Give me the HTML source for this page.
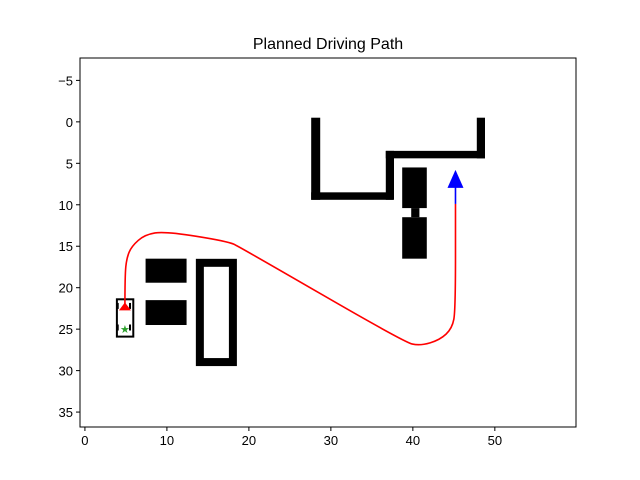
<!DOCTYPE html>
<html><head><meta charset="utf-8"><style>
body{margin:0;background:#fff}
svg{display:block;font-family:"Liberation Sans","DejaVu Sans",sans-serif}
</style></head><body>
<svg id="chart" width="640" height="480">
<rect width="640" height="480" fill="#fff"/>
<text x="328" y="49" text-anchor="middle" font-size="16">Planned Driving Path</text>
<g id="obs"></g>
<g id="pathg"></g>
<g id="axes"></g>
</svg>
<script>
const xTicks=[0,10,20,30,40,50];
const yTicks=[-5,0,5,10,15,20,25,30,35];
// obstacles [x0,y0,x1,y1] in data units
const obstacles=[
[27.6,-0.5,28.7,9.4],[27.6,8.5,37.6,9.4],[36.7,3.5,37.7,9.4],[36.7,3.5,48.8,4.4],[47.8,-0.5,48.8,4.4],
[38.7,5.5,41.7,10.4],[39.8,10.4,40.8,11.5],[38.7,11.5,41.7,16.5],
[7.4,16.5,12.4,19.4],[7.4,21.5,12.4,24.5]];
const pathX=[4.88,4.88,5.1,5.7,7.3,9.8,17.4,18.9,39.0,40.9,43.3,44.8,45.2,45.2];
const pathY=[22.3,18.5,16.4,15.0,13.6,13.2,14.4,15.1,26.6,27.0,26.3,24.9,22.7,9.9];
const goal=[45.2,7.0];
const start=[4.88,22.5];
const NS='http://www.w3.org/2000/svg';
const L=80,R=576,T=58,B=427,xmin=-0.6,xmax=59.9,ymin=-7.7,ymax=36.8;
const sx=v=>L+(v-xmin)/(xmax-xmin)*(R-L);
const sy=v=>T+(v-ymin)/(ymax-ymin)*(B-T);
function mk(tag,attrs,parent){const e=document.createElementNS(NS,tag);for(const k in attrs)e.setAttribute(k,attrs[k]);parent.appendChild(e);return e;}
const obs=document.getElementById('obs');
obstacles.forEach(o=>{const r=mk('rect',{x:sx(o[0]),y:sy(o[1]),width:sx(o[2])-sx(o[0]),height:sy(o[3])-sy(o[1]),fill:'#000'},obs);

});
const hr=mk('rect',{x:sx(14.02),y:sy(17.0),width:sx(18.05)-sx(14.02),height:sy(28.97)-sy(17.0),fill:'none',stroke:'#000','stroke-width':8},obs);


const pg=document.getElementById('pathg');
const car=mk('rect',{x:sx(3.9),y:sy(21.4),width:sx(5.9)-sx(3.9),height:sy(25.9)-sy(21.4),fill:'none',stroke:'#000','stroke-width':2},pg);


[[4.0,22.2],[5.5,22.2],[4.0,24.8],[5.5,24.8]].forEach(w=>{const e=mk('rect',{x:sx(w[0])-1,y:sy(w[1])-3,width:2,height:6,fill:'#000'},pg);

});
// smooth path via midpoint quadratic
const pts=pathX.map((x,i)=>[sx(x),sy(pathY[i])]);
let d='M'+pts[0][0]+','+pts[0][1];
for(let i=1;i<pts.length-1;i++){const m=[(pts[i][0]+pts[i+1][0])/2,(pts[i][1]+pts[i+1][1])/2];
d+=` Q${pts[i][0]},${pts[i][1]} ${m[0]},${m[1]}`;}
const last=pts[pts.length-1];d+=` L${last[0]},${last[1]}`;
const p=mk('path',{d:d,fill:'none',stroke:'red','stroke-width':1.6},pg);


const sa=mk('polygon',{points:`${sx(start[0])},${sy(start[1])-6} ${sx(start[0])-6},${sy(start[1])+2} ${sx(start[0])+6},${sy(start[1])+2}`,fill:'red'},pg);


const gs=mk('text',{x:sx(4.88),y:sy(25)+4,'text-anchor':'middle','font-size':11,fill:'#2ca02c'},pg);gs.textContent='★';


const bl=mk('line',{x1:sx(goal[0]),y1:sy(goal[1])+2,x2:sx(goal[0]),y2:sy(9.9),stroke:'blue','stroke-width':1.6},pg);


const ga=mk('polygon',{points:`${sx(goal[0])},${sy(goal[1])-10} ${sx(goal[0])-8},${sy(goal[1])+8} ${sx(goal[0])+8},${sy(goal[1])+8}`,fill:'blue'},pg);


const ax=document.getElementById('axes');
const fr=mk('rect',{x:L,y:T,width:R-L,height:B-T,fill:'none',stroke:'#000','stroke-width':1},ax);


xTicks.forEach(t=>{const x=sx(t);mk('line',{x1:x,y1:B,x2:x,y2:B+4,stroke:'#000'},ax);
const tx=mk('text',{x:x,y:B+18,'text-anchor':'middle','font-size':13},ax);tx.textContent=t;

});
yTicks.forEach(t=>{const y=sy(t);mk('line',{x1:L-4,y1:y,x2:L,y2:y,stroke:'#000'},ax);
const tx=mk('text',{x:L-7,y:y+5,'text-anchor':'end','font-size':13},ax);tx.textContent=t<0?'\u2212'+(-t):t;

});
</script>
</body></html>
